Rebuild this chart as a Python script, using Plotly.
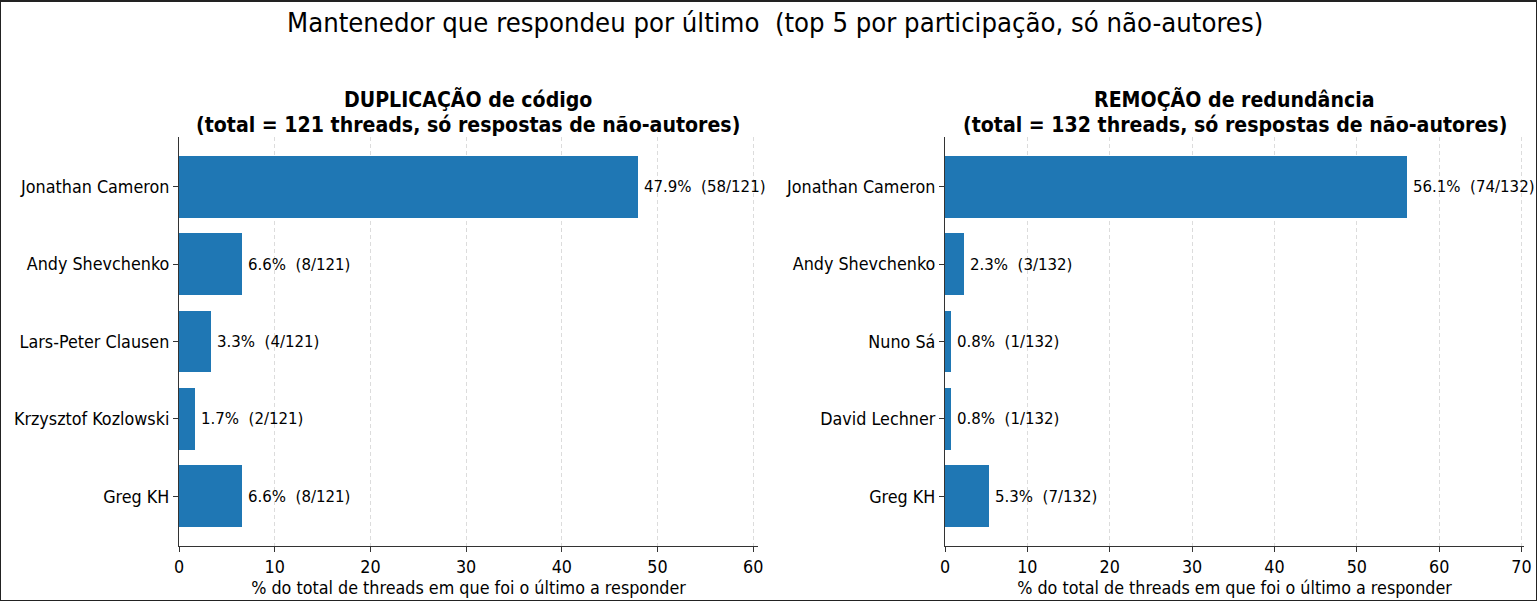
import plotly.graph_objects as go

# ---- data ----
dup_names = ["Jonathan Cameron", "Andy Shevchenko", "Lars-Peter Clausen", "Krzysztof Kozlowski", "Greg KH"]
dup_counts = [58, 8, 4, 2, 8]
dup_total = 121

rem_names = ["Jonathan Cameron", "Andy Shevchenko", "Nuno Sá", "David Lechner", "Greg KH"]
rem_counts = [74, 3, 1, 1, 7]
rem_total = 132

main_title = "Mantenedor que respondeu por último\u00a0 (top 5 por participação, só não-autores)"
dup_title = ["DUPLICAÇÃO de código", "(total = 121 threads, só respostas de não-autores)"]
rem_title = ["REMOÇÃO de redundância", "(total = 132 threads, só respostas de não-autores)"]
xlabel = "% do total de threads em que foi o último a responder"

W, H = 1537, 601
FONT = "DejaVu Sans Condensed"
K = 1 / 0.9
BLUE = "#1f77b4"

fig = go.Figure()

panels = [
    dict(names=dup_names, counts=dup_counts, total=dup_total, title=dup_title,
         xd=(179, 758), xr=[0, 60.5], ax="x", ay="y", tick=10),
    dict(names=rem_names, counts=rem_counts, total=rem_total, title=rem_title,
         xd=(945, 1524), xr=[0, 70.3], ax="x2", ay="y2", tick=10),
]

ytop, ybot = 137, 546
annotations = []
for i, p in enumerate(panels):
    pos = list(range(len(p["names"])))
    pct = [c / p["total"] * 100 for c in p["counts"]]
    fig.add_trace(go.Bar(
        x=pct, y=pos, orientation="h", width=0.8,
        marker=dict(color=BLUE, line=dict(width=0)),
        xaxis=p["ax"], yaxis=p["ay"], showlegend=False, hoverinfo="skip",
    ))
    for v, c, yy in zip(pct, p["counts"], pos):
        annotations.append(dict(
            x=v, y=yy, xref=p["ax"], yref=p["ay"],
            text=f"{v:.1f}%\u00a0 ({c}/{p['total']})",
            showarrow=False, xanchor="left", yanchor="middle", xshift=4,
            font=dict(family=FONT, size=15 * K, color="black"),
        ))
    sfx = "" if i == 0 else "2"
    xaxis = dict(
        domain=[p["xd"][0] / W, p["xd"][1] / W], range=p["xr"], anchor="y" + sfx,
        showline=True, linecolor="#333", linewidth=1.2, mirror=False,
        ticks="outside", ticklen=5, tickwidth=1, tickcolor="#333",
        dtick=p["tick"], tick0=0, zeroline=False,
        showgrid=True, gridcolor="#dcdcdc", gridwidth=1, griddash="4px,3px",
        tickfont=dict(family=FONT, size=16 * K, color="black"),
        title=dict(text=xlabel, font=dict(family=FONT, size=16 * K, color="black"), standoff=4),
        automargin=False, fixedrange=True,
    )
    yaxis = dict(
        domain=[1 - ybot / H, 1 - ytop / H], range=[4.64, -0.64], anchor="x" + sfx,
        tickmode="array", tickvals=pos, ticktext=p["names"],
        showline=True, linecolor="#333", linewidth=1.2, mirror=False,
        ticks="outside", ticklen=5, tickwidth=1, tickcolor="#333",
        showgrid=False, zeroline=False,
        tickfont=dict(family=FONT, size=16 * K, color="black"),
        automargin=False, fixedrange=True,
    )
    fig.update_layout(**{"xaxis" + sfx: xaxis, "yaxis" + sfx: yaxis})
    cx = (p["xd"][0] + p["xd"][1]) / 2 / W
    for line, ypx in zip(p["title"], (100, 124)):
        annotations.append(dict(
            x=cx, y=1 - ypx / H, xref="paper", yref="paper", text=f"<b>{line}</b>",
            showarrow=False, xanchor="center", yanchor="middle",
            font=dict(family=FONT, size=19 * K, color="black"),
        ))

annotations.append(dict(
    x=774.5 / W, y=1 - 23 / H, xref="paper", yref="paper", text=main_title,
    showarrow=False, xanchor="center", yanchor="middle",
    font=dict(family=FONT, size=24.5 * K, color="black"),
))

fig.update_layout(
    width=W, height=H, autosize=False,
    margin=dict(l=0, r=0, t=0, b=0, pad=0),
    paper_bgcolor="white", plot_bgcolor="white",
    annotations=annotations, bargap=0,
    shapes=[
        dict(type="rect", xref="paper", yref="paper", x0=0, x1=1, y0=0, y1=1,
             line=dict(color="#222", width=2), layer="above"),
        dict(type="line", xref="paper", yref="paper", x0=0, x1=1, y0=1, y1=1,
             line=dict(color="#222", width=4), layer="above"),
    ],
)

fig.write_html("out.html")
